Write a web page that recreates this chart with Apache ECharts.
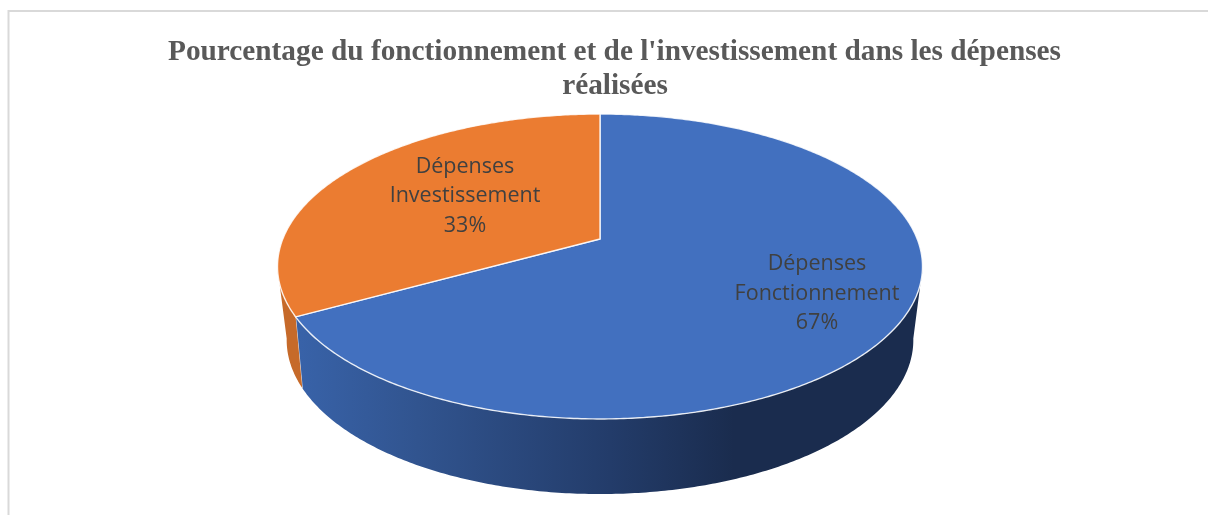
<!DOCTYPE html>
<html><head><meta charset="utf-8">
<style>html,body{margin:0;padding:0;background:#fff}#c{width:1208px;height:515px}</style>
<script src="https://cdn.jsdelivr.net/npm/echarts@6/dist/echarts.min.js"></script>
</head><body><div id="c"></div>
<script>
const categories = ['Dépenses\nFonctionnement', 'Dépenses\nInvestissement'];
const values = [67, 33];
const titleLines = ["Pourcentage du fonctionnement et de l'investissement dans les dépenses", 'réalisées'];

const topColors = ['#4270BF', '#EB7C31'];
const labelAnchors = [[817, 293.5], [465, 196]];
const topDisc = {x: 600, y: 239, a: 317.2, b: 147.5, k: 0.1803};
const baseDisc = {x: 600, y: 309.3, a: 307, b: 147.8, k: 0.2};
const total = values.reduce((s, v) => s + v, 0);
const TAU = Math.PI * 2;

function project(d, ang) {
  const u = Math.sin(ang), v = -Math.cos(ang), w = 1 - d.k * v;
  return [d.x + d.a * u / w, d.y + d.b * v / w];
}
function sliceRange(i) {
  const before = values.slice(0, i).reduce((s, v) => s + v, 0);
  return [before / total * TAU, (before + values[i]) / total * TAU];
}
function arc(d, a0, a1) {
  const n = Math.max(2, Math.ceil(Math.abs(a1 - a0) / 0.01)), pts = [];
  for (let j = 0; j <= n; j++) pts.push(project(d, a0 + (a1 - a0) * j / n));
  return pts;
}
const wallGradient = new echarts.graphic.LinearGradient(300, 0, 920, 0, [
  {offset: 0, color: '#3862A8'},
  {offset: 0.19, color: '#31548F'},
  {offset: 0.50, color: '#233C6A'},
  {offset: 0.70, color: '#1A2C4E'},
  {offset: 1, color: '#1A2C4E'}
], true);
const wallFills = [wallGradient, '#C66A2A'];

function renderWall(params) {
  const i = params.dataIndex, r = sliceRange(i);
  const a0 = Math.max(r[0], 101 * Math.PI / 180), a1 = Math.min(r[1], 259 * Math.PI / 180);
  const points = arc(topDisc, a0, a1).concat(arc(baseDisc, a0, a1).reverse());
  const children = [{type: 'polygon', shape: {points}, style: {fill: wallFills[i]}}];
  if (i === 0) {
    children.push({type: 'line',
      shape: {x1: project(topDisc, a1)[0], y1: project(topDisc, a1)[1], x2: project(baseDisc, a1)[0], y2: project(baseDisc, a1)[1]},
      style: {stroke: 'rgba(255,255,255,0.75)', lineWidth: 1}});
  }
  return {type: 'group', children};
}
function renderTop(params) {
  const i = params.dataIndex, r = sliceRange(i);
  const points = [[topDisc.x, topDisc.y]].concat(arc(topDisc, r[0], r[1]));
  const pct = Math.round(values[i] / total * 100) + '%';
  return {type: 'group', children: [
    {type: 'polygon', shape: {points}, style: {fill: topColors[i], stroke: 'rgba(255,255,255,0.85)', lineWidth: 1.4}},
    {type: 'text', z2: 10, x: labelAnchors[i][0], y: labelAnchors[i][1], style: {
      text: categories[i] + '\n' + pct, fill: '#404040', align: 'center', verticalAlign: 'middle',
      font: '21.5px "Open Sans"', lineHeight: 29.5}}
  ]};
}
const chart = echarts.init(document.getElementById('c'), null, {renderer: 'canvas'});
const titleStyle = {fontFamily: '"Liberation Serif"', fontWeight: 'bold', fontSize: 29.3, color: '#595959'};
chart.setOption({
  animation: false,
  backgroundColor: '#fff',
  title: [
    {text: titleLines[0], left: 614.5, top: 38, textAlign: 'center', textStyle: titleStyle, padding: 0},
    {text: titleLines[1], left: 615, top: 72, textAlign: 'center', textStyle: titleStyle, padding: 0}
  ],
  graphic: [{type: 'rect', silent: true, shape: {x: 8.5, y: 11, width: 1400, height: 800},
    style: {fill: 'none', stroke: '#D9D9D9', lineWidth: 2}}],
  series: [
    {type: 'custom', coordinateSystem: 'none', silent: true, z: 2, renderItem: renderWall, data: values},
    {type: 'custom', coordinateSystem: 'none', silent: true, z: 3, renderItem: renderTop, data: values}
  ]
});
</script></body></html>
